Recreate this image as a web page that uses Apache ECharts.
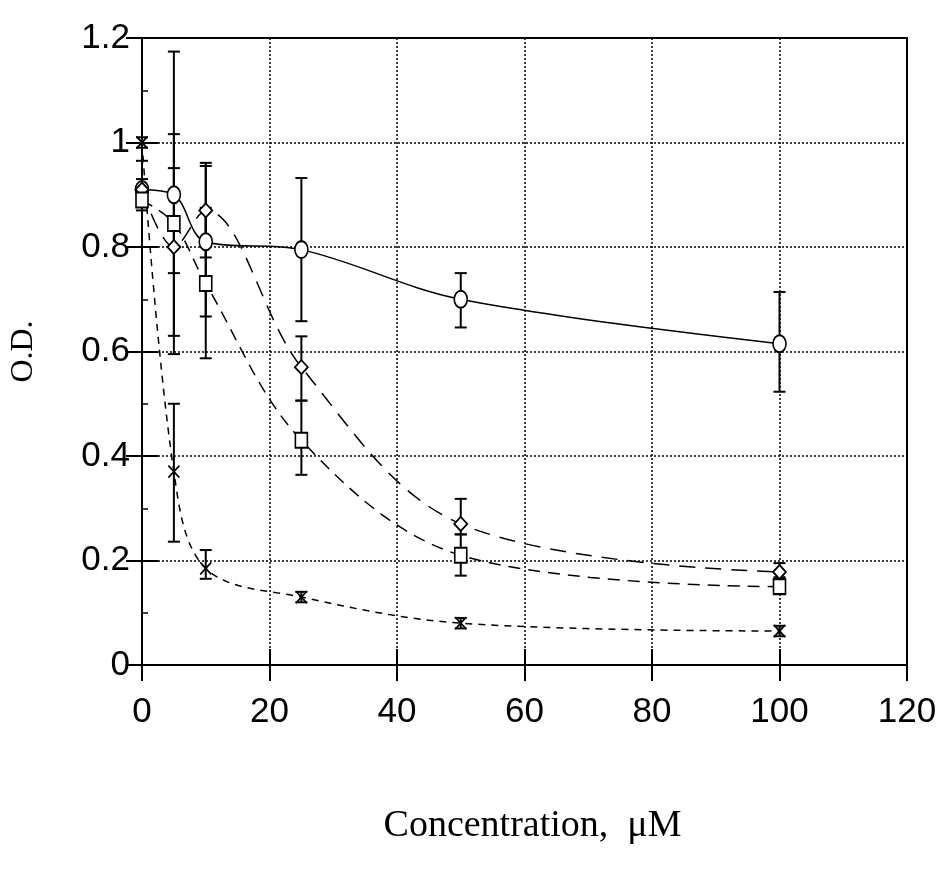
<!DOCTYPE html>
<html>
<head>
<meta charset="utf-8">
<script src="https://cdn.jsdelivr.net/npm/echarts@6/dist/echarts.min.js"></script>
<style>
  html, body { margin: 0; padding: 0; background: #fff; }
  #chart { width: 944px; height: 879px; }
</style>
</head>
<body>
<div id="chart"></div>
<script>
// concentrations (uM)
const conc = [0, 5, 10, 25, 50, 100];

// circle series (solid line)
const circleOD = [0.91, 0.90, 0.81, 0.795, 0.70, 0.615];
const circleLo = [0.88, 0.63, 0.667, 0.658, 0.646, 0.523];
const circleHi = [0.965, 1.174, 0.961, 0.932, 0.75, 0.714];

// diamond series (long dashes)
const diamondOD = [0.91, 0.80, 0.87, 0.57, 0.27, 0.178];
const diamondLo = [0.89, 0.595, 0.78, 0.506, 0.25, 0.168];
const diamondHi = [0.93, 1.016, 0.955, 0.629, 0.318, 0.195];

// square series (dashes)
const squareOD = [0.89, 0.845, 0.73, 0.43, 0.21, 0.15];
const squareLo = [0.87, 0.75, 0.587, 0.364, 0.171, 0.14];
const squareHi = [0.91, 0.951, 0.875, 0.506, 0.25, 0.16];

// cross series (short dashes)
const crossOD = [1.0, 0.37, 0.185, 0.13, 0.08, 0.065];
const crossLo = [0.99, 0.236, 0.165, 0.12, 0.07, 0.055];
const crossHi = [1.01, 0.50, 0.22, 0.14, 0.09, 0.075];

const xTicks = [0, 20, 40, 60, 80, 100, 120];
const yTicks = [0, 0.2, 0.4, 0.6, 0.8, 1, 1.2];

const pts = (ys) => conc.map((x, i) => [x, ys[i]]);
const bars = (lo, hi) => conc.map((x, i) => [x, lo[i], hi[i]]);

const labelFont = '"Liberation Sans Narrow", "Liberation Sans", Arial, sans-serif';
const serif = '"Liberation Serif", "DejaVu Serif", serif';

function errorBar(params, api) {
  const x = api.value(0);
  const lo = api.coord([x, api.value(1)]);
  const hi = api.coord([x, api.value(2)]);
  const cap = 6;
  const style = { stroke: '#000', lineWidth: 2 };
  return {
    type: 'group',
    children: [
      { type: 'line', shape: { x1: lo[0], y1: lo[1], x2: hi[0], y2: hi[1] }, style },
      { type: 'line', shape: { x1: lo[0] - cap, y1: lo[1], x2: lo[0] + cap, y2: lo[1] }, style },
      { type: 'line', shape: { x1: hi[0] - cap, y1: hi[1], x2: hi[0] + cap, y2: hi[1] }, style }
    ]
  };
}

function errSeries(lo, hi) {
  return {
    type: 'custom',
    renderItem: errorBar,
    encode: { x: 0, y: [1, 2] },
    data: bars(lo, hi),
    z: 3,
    silent: true
  };
}

function lineSeries(ys, symbol, size, dash) {
  return {
    type: 'line',
    data: pts(ys),
    smooth: 0.35,
    symbol: symbol,
    symbolSize: size,
    showAllSymbol: true,
    lineStyle: { color: '#000', width: 1.5, type: dash },
    itemStyle: { color: '#fff', borderColor: '#000', borderWidth: 1.8 },
    z: 4,
    silent: true
  };
}

const chart = echarts.init(document.getElementById('chart'), null, { renderer: 'canvas' });

chart.setOption({
  animation: false,
  backgroundColor: '#fff',
  grid: {
    left: 139, right: 37, top: 38, bottom: 214,
    show: true, borderColor: '#000', borderWidth: 2, backgroundColor: 'transparent'
  },
  xAxis: [{
    type: 'value',
    min: 0, max: 120, interval: 20,
    position: 'bottom',
    axisLine: { show: true, lineStyle: { color: '#000', width: 2 } },
    axisTick: { show: true, inside: true, length: 16, lineStyle: { color: '#000', width: 2 } },
    axisLabel: {
      color: '#000', fontFamily: labelFont, fontSize: 35, margin: 30,
      formatter: (v) => xTicks.includes(v) ? String(v) : ''
    },
    splitLine: { show: true, lineStyle: { color: '#000', width: 1.5, type: [2, 2] } },
    name: 'Concentration,  \u03bcM',
    nameLocation: 'middle',
    nameGap: 142,
    nameTextStyle: { color: '#000', fontFamily: serif, fontSize: 38, padding: [0, 0, 0, 16] }
  }, {
    type: 'value',
    min: 0, max: 120, interval: 20,
    position: 'top',
    axisLine: { show: false },
    axisTick: { show: true, inside: true, length: 16, lineStyle: { color: '#000', width: 2 } },
    axisLabel: { show: false },
    splitLine: { show: false }
  }],
  yAxis: [{
    type: 'value',
    min: 0, max: 1.2, interval: 0.2,
    position: 'left',
    axisLine: { show: true, lineStyle: { color: '#000', width: 2 } },
    axisTick: { show: true, inside: true, length: 16, lineStyle: { color: '#000', width: 2 } },
    minorTick: { show: true, splitNumber: 2, length: 6, lineStyle: { color: '#000', width: 1.5 } },
    axisLabel: {
      color: '#000', fontFamily: labelFont, fontSize: 35, margin: 12,
      formatter: (v) => {
        const t = yTicks.find((k) => Math.abs(k - v) < 1e-9);
        return t === undefined ? '' : String(Math.round(t * 10) / 10);
      }
    },
    splitLine: { show: true, lineStyle: { color: '#000', width: 1.5, type: [2, 2] } },
    name: 'O.D.',
    nameLocation: 'middle',
    nameGap: 102,
    nameRotate: 90,
    nameTextStyle: { color: '#000', fontFamily: serif, fontSize: 32 }
  }, {
    type: 'value',
    min: 0, max: 1.2, interval: 0.2,
    position: 'right',
    axisLine: { show: false },
    axisTick: { show: true, inside: true, length: 16, lineStyle: { color: '#000', width: 2 } },
    axisLabel: { show: false },
    splitLine: { show: false }
  }],
  series: [
    lineSeries(circleOD, 'circle', [13, 17], 'solid'),
    lineSeries(diamondOD, 'diamond', [13, 14], [16, 10]),
    lineSeries(squareOD, 'rect', [12, 15], [12, 8]),
    lineSeries(crossOD, 'path://M0,0L10,12M10,0L0,12', [11, 12], [7, 6]),
    errSeries(circleLo, circleHi),
    errSeries(diamondLo, diamondHi),
    errSeries(squareLo, squareHi),
    errSeries(crossLo, crossHi)
  ]
});
</script>
</body>
</html>
